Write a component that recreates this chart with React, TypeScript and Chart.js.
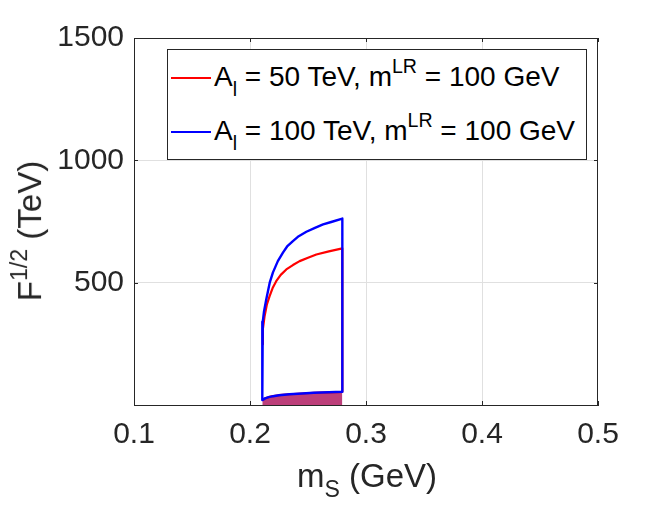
import { useEffect, useRef } from 'react'
import { Chart, registerables } from 'chart.js'
Chart.register(...registerables)

// lower edge of the allowed region (shared by both curves)
const bottomX = [0.2106, 0.2130, 0.2160, 0.2200, 0.2250, 0.2340, 0.2450, 0.2550, 0.2680, 0.2796]
const bottomY = [20, 27, 32, 36, 40, 44, 47, 50, 52, 54]

// upper edge, A_l = 100 TeV (right to left)
const blueTopX = [0.2796, 0.2700, 0.2630, 0.2560, 0.2486, 0.2420, 0.2370, 0.2320, 0.2284, 0.2240, 0.2198, 0.2170, 0.2140, 0.2120, 0.2110, 0.2106]
const blueTopY = [762, 748, 738, 724, 708, 690, 670, 648, 623, 588, 542, 500, 431, 380, 340, 300]

// upper edge, A_l = 50 TeV (left to right)
const redTopX = [0.2106, 0.2111, 0.2126, 0.2145, 0.2169, 0.2195, 0.2226, 0.2265, 0.2313, 0.2370, 0.2428, 0.2500, 0.2572, 0.2680, 0.2796]
const redTopY = [248, 310, 364, 410, 445, 478, 506, 532, 554, 572, 588, 602, 615, 628, 640]

const legendLabels = ['50', '100']
const legendColors = ['#ff0000', '#0000ff']

const ink = '#262626'
const font = "'Liberation Sans', Arial, sans-serif"

const pts = (xs: number[], ys: number[]) => xs.map((x, i) => ({ x, y: ys[i] }))

// matlab style box: top/right edges and short inward ticks on all four sides
const boxPlugin = {
    id: 'box',
    afterDraw(chart: Chart) {
        const { ctx, chartArea: a, scales } = chart
        const len = 4
        ctx.save()
        ctx.strokeStyle = ink
        ctx.lineWidth = 1
        ctx.beginPath()
        ctx.moveTo(a.left, a.top + 0.5)
        ctx.lineTo(a.right - 0.5, a.top + 0.5)
        ctx.lineTo(a.right - 0.5, a.bottom)
        scales.x.ticks.forEach(t => {
            const px = Math.round(scales.x.getPixelForValue(t.value)) + 0.5
            ctx.moveTo(px, a.bottom); ctx.lineTo(px, a.bottom - len)
            ctx.moveTo(px, a.top); ctx.lineTo(px, a.top + len)
        })
        scales.y.ticks.forEach(t => {
            const py = Math.round(scales.y.getPixelForValue(t.value)) + 0.5
            ctx.moveTo(a.left, py); ctx.lineTo(a.left + len, py)
            ctx.moveTo(a.right, py); ctx.lineTo(a.right - len, py)
        })
        ctx.stroke()
        ctx.restore()
    },
}

export default function App() {
    const canvasRef = useRef<HTMLCanvasElement>(null)
    const chartRef = useRef<Chart | null>(null)

    useEffect(() => {
        if (!canvasRef.current) return
        const bottom = pts(bottomX, bottomY)
        const blueLoop = [...bottom, ...pts(blueTopX, blueTopY), { x: bottomX[0], y: bottomY[0] }]
        const redLoop = [...pts(redTopX, redTopY), ...[...bottom].reverse()]

        chartRef.current?.destroy()
        chartRef.current = new Chart(canvasRef.current, {
            type: 'line',
            data: {
                datasets: [
                    { data: blueLoop, borderColor: '#0000ff', borderWidth: 2.4, pointRadius: 0, fill: false, order: 0 },
                    { data: redLoop, borderColor: '#ff0000', borderWidth: 2.2, pointRadius: 0, fill: false, order: 1 },
                    { data: bottom, borderColor: 'rgba(0,0,0,0)', borderWidth: 0, backgroundColor: '#bc3f7a', pointRadius: 0, fill: 'origin', order: 2 },
                ],
            },
            options: {
                responsive: false,
                animation: false,
                layout: { padding: { top: 38, right: 63, left: 0, bottom: 0 } },
                plugins: { legend: { display: false }, tooltip: { enabled: false } },
                elements: { line: { tension: 0, borderJoinStyle: 'round' } },
                scales: {
                    x: {
                        type: 'linear',
                        min: 0.1,
                        max: 0.5,
                        afterFit: (s: any) => { s.height = 105 },
                        ticks: {
                            stepSize: 0.1,
                            padding: 12,
                            color: ink,
                            font: { family: font, size: 30 },
                            callback: (v: any) => Number(v).toFixed(1),
                        },
                        grid: {
                            drawTicks: false,
                            color: (c: any) => (c.tick && (Math.abs(c.tick.value - 0.1) < 1e-6 || Math.abs(c.tick.value - 0.5) < 1e-6)) ? 'rgba(0,0,0,0)' : '#e0e0e0',
                        },
                        border: { color: ink, width: 1 },
                    },
                    y: {
                        type: 'linear',
                        min: 0,
                        max: 1500,
                        afterFit: (s: any) => { s.width = 134 },
                        ticks: {
                            stepSize: 500,
                            padding: 10,
                            color: ink,
                            font: { family: font, size: 30 },
                            callback: (v: any) => (v === 0 ? '' : String(v)),
                        },
                        grid: {
                            drawTicks: false,
                            color: (c: any) => (c.tick && (c.tick.value === 0 || c.tick.value === 1500)) ? 'rgba(0,0,0,0)' : '#e0e0e0',
                        },
                        border: { color: ink, width: 1 },
                    },
                },
            },
            plugins: [boxPlugin],
        })
        return () => chartRef.current?.destroy()
    }, [])

    const small = { fontSize: '0.7em' }

    return (
        <div style={{ position: 'fixed', left: 0, top: 0, width: 661, height: 510, background: 'white', fontFamily: font, color: ink }}>
            <canvas ref={canvasRef} width={661} height={510} style={{ position: 'absolute', left: 0, top: 0 }} />

            <div style={{ position: 'absolute', left: 167, top: 49, width: 418, height: 109, border: `1px solid ${ink}`, background: 'white' }}>
                {legendLabels.map((a, i) => (
                    <div key={a} style={{ position: 'absolute', left: 3, top: 13 + i * 54, height: 30, display: 'flex', alignItems: 'center', whiteSpace: 'nowrap', fontSize: 28, color: '#000' }}>
                        <span style={{ width: 40, height: 2, background: legendColors[i], display: 'inline-block', marginRight: 3 }} />
                        <span>
                            A<span style={{ ...small, verticalAlign: '-0.5em' }}>l</span> = {a} TeV, m<span style={{ ...small, verticalAlign: '0.65em' }}>LR</span> = 100 GeV
                        </span>
                    </div>
                ))}
            </div>

            <div style={{ position: 'absolute', left: 267, top: 459, width: 200, textAlign: 'center', fontSize: 33, lineHeight: 1, whiteSpace: 'nowrap' }}>
                m<span style={{ ...small, verticalAlign: '-0.45em' }}>S</span> (GeV)
            </div>

            <div style={{ position: 'absolute', left: 27 - 100, top: 228 - 16.5, width: 200, textAlign: 'center', fontSize: 33, lineHeight: 1, whiteSpace: 'nowrap', transform: 'rotate(-90deg)' }}>
                F<span style={{ ...small, verticalAlign: '0.6em' }}>1/2</span> (TeV)
            </div>
        </div>
    )
}
